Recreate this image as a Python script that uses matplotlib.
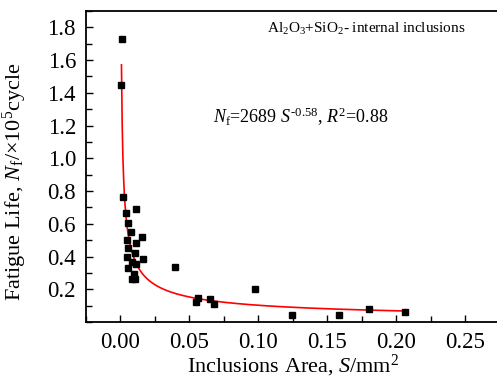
import matplotlib
matplotlib.use('agg')
import matplotlib.pyplot as plt
import numpy as np
from matplotlib.ticker import MultipleLocator

plt.rcParams['font.family'] = 'Liberation Serif'
plt.rcParams['mathtext.fontset'] = 'custom'
plt.rcParams['mathtext.rm'] = 'Liberation Serif'
plt.rcParams['mathtext.it'] = 'Liberation Serif:italic'

# inclusion area S (mm^2) and fatigue life (x10^5 cycles)
area = [0.0012, 0.0007, 0.0019, 0.0040, 0.0116, 0.0053, 0.0079, 0.0048,
        0.0159, 0.0113, 0.0053, 0.0105, 0.0048, 0.0168, 0.0084, 0.0111,
        0.0058, 0.0103, 0.0084, 0.0108, 0.0400, 0.0561, 0.0546, 0.0647,
        0.0681, 0.0978, 0.1245, 0.1585, 0.1799, 0.2064]
life = [1.727, 1.447, 0.761, 0.663, 0.690, 0.606, 0.548, 0.501,
        0.521, 0.485, 0.453, 0.424, 0.396, 0.382, 0.366, 0.355,
        0.331, 0.295, 0.262, 0.262, 0.339, 0.147, 0.123, 0.143,
        0.112, 0.199, 0.044, 0.044, 0.082, 0.062]

# fit N_f = 2689 S^-0.58 (cycles), plotted in 1e5 cycles
fit_a = 2689
fit_b = -0.58
fit_range = (0.0009, 0.207)

W, H = 497, 378
fig = plt.figure(figsize=(W / 100, H / 100), dpi=100)
ax = fig.add_axes([85.7 / W, 56 / H, (500 - 85.7) / W, 311 / H])

s = np.linspace(fit_range[0], fit_range[1], 800)
ax.plot(s, fit_a * s ** fit_b / 1e5, color='red', lw=1.2, zorder=2)
ax.plot(area, life, 's', color='black', ms=5, zorder=3)

ax.set_xlim(-0.025, 0.275)
ax.set_ylim(0, 1.9)
ax.set_xticks([0.0, 0.05, 0.10, 0.15, 0.20, 0.25])
ax.set_xticklabels(['0.00', '0.05', '0.10', '0.15', '0.20', '0.25'])
ax.set_yticks([0.2, 0.4, 0.6, 0.8, 1.0, 1.2, 1.4, 1.6, 1.8])
ax.xaxis.set_minor_locator(MultipleLocator(0.025))
ax.yaxis.set_minor_locator(MultipleLocator(0.1))
ax.tick_params(which='both', direction='in', labelsize=16.5, pad=7,
               top=False, right=False)
ax.tick_params(which='major', length=5, width=1)
ax.tick_params(which='minor', length=4, width=1)
for sp in ax.spines.values():
    sp.set_linewidth(1.3)

ax.set_xlabel(r'Inclusions Area, $S$/mm$^2$', fontsize=16, labelpad=0)
ax.set_ylabel(r'Fatigue Life, $N_\mathrm{f}$/×10$^5$cycle', fontsize=16)
ax.yaxis.set_label_coords(-0.137, 0.45)

fig.text(366.7 / W, 1 - 29 / H, r'Al$_2$O$_3$+SiO$_2$- internal inclusions',
         fontsize=11, ha='center', va='center')
fig.text(300.8 / W, 1 - 117 / H,
         r'$N_\mathrm{f}$=2689 $S^{\text{-0.58}}$, $R^2$=0.88',
         fontsize=13, ha='center', va='center')

fig.savefig('out.png', dpi=100)
